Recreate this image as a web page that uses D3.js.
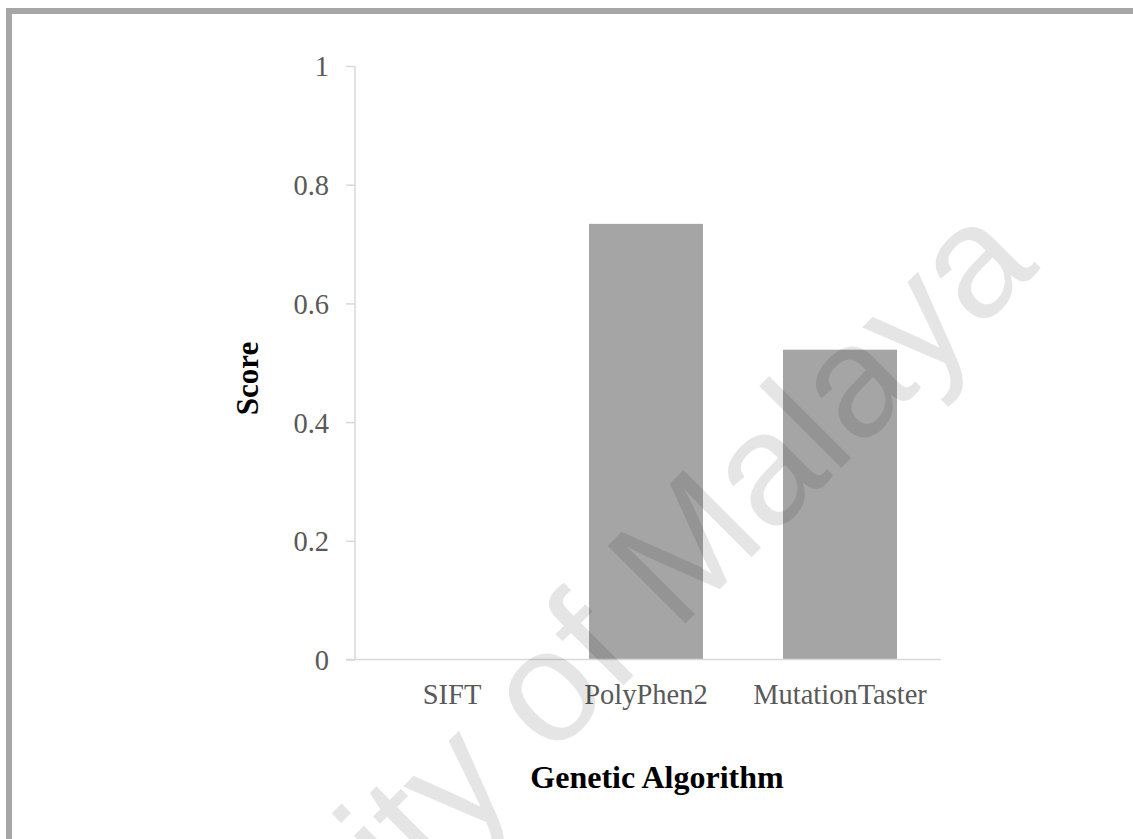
<!DOCTYPE html>
<html>
<head>
<meta charset="utf-8">
<script src="https://cdn.jsdelivr.net/npm/d3@7"></script>
<style>
  html, body { margin: 0; padding: 0; background: #ffffff; overflow: hidden; }
  svg { display: block; }
</style>
</head>
<body>
<svg id="chart" width="1133" height="839"></svg>
<script>
// Scores per prediction tool
const categories = ["SIFT", "PolyPhen2", "MutationTaster"];
const scores = [0, 0.734, 0.522];
const yTicks = [0, 0.2, 0.4, 0.6, 0.8, 1];
const xTitle = "Genetic Algorithm";
const yTitle = "Score";
const watermarkText = "University of Malaya";

const svg = d3.select("#chart");
const serif = "'Liberation Serif', 'Times New Roman', serif";

// outer frame (runs off the right and bottom edges)
svg.append("rect")
  .attr("x", 9).attr("y", 11)
  .attr("width", 1300).attr("height", 1000)
  .attr("fill", "none")
  .attr("stroke", "#a6a6a6")
  .attr("stroke-width", 6);

const x = d3.scaleBand()
  .domain(categories)
  .range([355, 937])
  .paddingInner(80 / 194)
  .paddingOuter(40 / 194);

const y = d3.scaleLinear().domain([0, 1]).range([659.5, 66]);

// bars
svg.append("g").selectAll("rect")
  .data(categories.map((c, i) => ({ c, v: scores[i] })))
  .join("rect")
  .attr("x", d => x(d.c))
  .attr("width", x.bandwidth())
  .attr("y", d => y(d.v))
  .attr("height", d => y(0) - y(d.v))
  .attr("fill", "#a5a5a5");

// y axis
const yAxis = d3.axisLeft(y)
  .tickValues(yTicks)
  .tickFormat(d3.format("~g"))
  .tickSize(9)
  .tickPadding(17);
const gy = svg.append("g").attr("transform", "translate(355,0)").call(yAxis);
gy.select(".domain").attr("stroke", "#d9d9d9").attr("stroke-width", 1.5)
  .attr("d", `M0,${y(1)}V${y(0)}`);
gy.selectAll(".tick line").attr("stroke", "#d9d9d9").attr("stroke-width", 1.5);
gy.selectAll(".tick text")
  .attr("fill", "#595959")
  .attr("font-family", serif)
  .attr("font-size", 28.5)
  .attr("dy", "0.35em");

// x axis
const xAxis = d3.axisBottom(x).tickSize(0).tickPadding(0);
const gx = svg.append("g").attr("transform", `translate(0,${y(0)})`).call(xAxis);
gx.select(".domain").attr("stroke", "#d9d9d9").attr("stroke-width", 1.5)
  .attr("d", "M346,0H941");
gx.selectAll(".tick text")
  .attr("fill", "#595959")
  .attr("font-family", serif)
  .attr("font-size", 28.5)
  .attr("y", 44.5)
  .attr("dy", 0);

// axis titles
svg.append("text")
  .attr("x", 657).attr("y", 788)
  .attr("text-anchor", "middle")
  .attr("font-family", serif)
  .attr("font-weight", "bold")
  .attr("font-size", 32)
  .attr("fill", "#000")
  .text(xTitle);

svg.append("text")
  .attr("transform", "translate(258,378.5) rotate(-90)")
  .attr("text-anchor", "middle")
  .attr("font-family", serif)
  .attr("font-weight", "bold")
  .attr("font-size", 31)
  .attr("fill", "#000")
  .text(yTitle);

// diagonal watermark
svg.append("text")
  .attr("transform", "translate(1041,268) rotate(-45)")
  .attr("text-anchor", "end")
  .attr("font-family", "'Liberation Sans', Arial, sans-serif")
  .attr("font-size", 160)
  .attr("fill", "#000")
  .attr("fill-opacity", 0.1)
  .text(watermarkText);
</script>
</body>
</html>
